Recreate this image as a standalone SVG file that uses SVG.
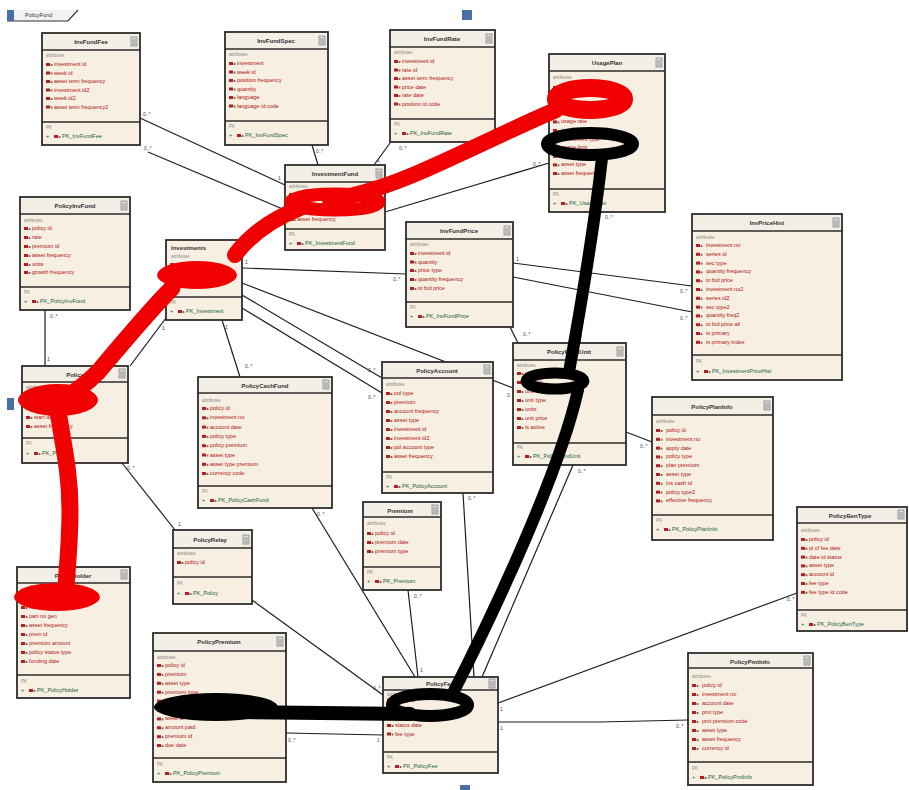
<svg xmlns="http://www.w3.org/2000/svg" xmlns:xlink="http://www.w3.org/1999/xlink" width="909" height="790" viewBox="0 0 909 790">
<style>
.b{fill:#f7efe2;stroke:#2d2d2d;stroke-width:1.8}
.h{fill:#f3eee6}
.s{stroke:#2d2d2d;stroke-width:1.4}
.t{font-family:"Liberation Sans",Arial,sans-serif;font-size:6px;font-weight:bold;fill:#333;text-anchor:middle}
.tl{font-family:"Liberation Sans",Arial,sans-serif;font-size:6px;font-weight:bold;fill:#333}
.l{font-family:"Liberation Sans",Arial,sans-serif;font-size:4.5px;fill:#888}
.a{font-family:"Liberation Sans",Arial,sans-serif;font-size:5.5px;fill:#b01010}
.o{font-family:"Liberation Sans",Arial,sans-serif;font-size:5.5px;fill:#14603a}
.c{stroke:#1e1e1e;stroke-width:1.2;fill:none}
.m{font-family:"Liberation Sans",Arial,sans-serif;font-size:5px;fill:#444}
.rd{stroke:#f00000;fill:none;stroke-linecap:round;stroke-linejoin:round}
.bk{stroke:#000;fill:none;stroke-linecap:round;stroke-linejoin:round}
.hd{fill:#4a6fa5}
</style>
<defs>
<g id="k"><rect width="4" height="3" fill="#b42020"/><rect x="4.6" y="1" width="1.8" height="2" fill="#666"/></g>
<g id="btn"><rect width="6" height="9" fill="#ddd" stroke="#666" stroke-width=".6"/><path d="M1,3h4M1,5h4M1,7h4" stroke="#666" stroke-width=".6"/></g>
</defs>
<rect width="909" height="790" fill="#fff"/>

<g id="frame">
<path d="M7,10 H76 L68,21 H7 Z" fill="#f2f2f2"/>
<path d="M7,21 H68 L78,10" fill="none" stroke="#333" stroke-width="1.2"/>
<rect x="7" y="10" width="7" height="11" fill="#4a6fa5"/>
<text class="tl" x="25" y="17" style="font-weight:normal;font-size:5.5px">PolicyFund</text>
<rect class="hd" x="462" y="10" width="10" height="10"/>
<rect class="hd" x="7" y="398" width="7" height="12"/>
<rect class="hd" x="460" y="785" width="10" height="5"/>
</g>

<g id="connectors">
<path class="c" d="M140,118 L285,185"/><text class="m" x="143" y="116">0..*</text><text class="m" x="278" y="180">1</text>
<path class="c" d="M148,152 L285,210"/><text class="m" x="144" y="150">0..*</text>
<path class="c" d="M312,145 L318,165"/><text class="m" x="316" y="153">0..*</text>
<path class="c" d="M390,143 L374,165"/><text class="m" x="399" y="150">0..*</text><text class="m" x="377" y="162">1</text>
<path class="c" d="M549,163 L385,212"/><text class="m" x="533" y="166">0..*</text>
<path class="c" d="M242,268 L406,274"/><text class="m" x="393" y="281">0..*</text><text class="m" x="245" y="264">1</text>
<path class="c" d="M513,263 L692,286"/><text class="m" x="680" y="293">0..*</text><text class="m" x="516" y="261">1</text>
<path class="c" d="M513,277 L692,312"/><text class="m" x="680" y="320">0..*</text>
<path class="c" d="M242,283 L513,388"/><text class="m" x="507" y="397">0..*</text>
<path class="c" d="M242,295 L382,378"/><text class="m" x="368" y="372">0..*</text>
<path class="c" d="M242,308 L382,393"/><text class="m" x="368" y="399">0..*</text>
<path class="c" d="M222,320 L240,377"/><text class="m" x="245" y="368">0..*</text><text class="m" x="225" y="329">1</text>
<path class="c" d="M166,318 L130,366"/><text class="m" x="162" y="330">1</text>
<path class="c" d="M45,310 L45,366"/><text class="m" x="50" y="318">0..*</text><text class="m" x="47" y="361">1</text>
<path class="c" d="M122,463 L175,530"/><text class="m" x="127" y="470">0..*</text><text class="m" x="178" y="526">1</text>
<path class="c" d="M252,600 L383,695"/><text class="m" x="373" y="690">0..*</text>
<path class="c" d="M312,508 L415,677"/><text class="m" x="317" y="516">0..*</text>
<path class="c" d="M408,590 L418,677"/><text class="m" x="414" y="598">0..*</text><text class="m" x="420" y="672">1</text>
<path class="c" d="M463,493 L474,677"/><text class="m" x="468" y="500">0..*</text>
<path class="c" d="M573,465 L482,677"/><text class="m" x="578" y="473">0..*</text>
<path class="c" d="M286,733 L383,735"/><text class="m" x="288" y="742">0..*</text><text class="m" x="377" y="742">1</text>
<path class="c" d="M498,703 L797,593"/><text class="m" x="787" y="601">0..*</text><text class="m" x="500" y="711">1</text>
<path class="c" d="M498,722 L600,722 L688,720"/><text class="m" x="676" y="728">0..*</text><text class="m" x="500" y="730">1</text>
<path class="c" d="M626,432 L652,442"/><text class="m" x="640" y="448">0..*</text>
<path class="c" d="M595,212 L580,343"/><text class="m" x="605" y="219">0..*</text>
<path class="c" d="M510,327 L518,343"/><text class="m" x="523" y="336">0..*</text>
</g>

<g id="InvFundFee">
<rect class="b" x="42" y="33" width="98" height="112"/><rect class="h" x="43" y="34" width="96" height="16"/>
<line class="s" x1="42" y1="50" x2="140" y2="50"/><use href="#btn" x="131" y="37"/>
<text class="t" x="91" y="44">InvFundFee</text><text class="l" x="46" y="57">attributes</text>
<use href="#k" x="46" y="63"/><text class="a" x="54" y="66">investment id</text>
<use href="#k" x="46" y="71.5"/><text class="a" x="54" y="74.5">week id</text>
<use href="#k" x="46" y="80"/><text class="a" x="54" y="83">asset term frequency</text>
<use href="#k" x="46" y="88.5"/><text class="a" x="54" y="91.5">investment id2</text>
<use href="#k" x="46" y="97"/><text class="a" x="54" y="100">week id2</text>
<use href="#k" x="46" y="105.5"/><text class="a" x="54" y="108.5">asset term frequency2</text>
<line class="s" x1="42" y1="122" x2="140" y2="122"/><text class="l" x="46" y="129">PK</text>
<text class="o" x="46" y="138">+</text><use href="#k" x="54" y="135"/><text class="o" x="62" y="138">PK_InvFundFee</text>
</g>

<g id="InvFundSpec">
<rect class="b" x="225" y="32" width="103" height="113"/><rect class="h" x="226" y="33" width="101" height="16"/>
<line class="s" x1="225" y1="49" x2="328" y2="49"/><use href="#btn" x="319" y="36"/>
<text class="t" x="276" y="43">InvFundSpec</text><text class="l" x="229" y="56">attributes</text>
<use href="#k" x="229" y="62"/><text class="a" x="237" y="65">investment</text>
<use href="#k" x="229" y="70.5"/><text class="a" x="237" y="73.5">week id</text>
<use href="#k" x="229" y="79"/><text class="a" x="237" y="82">position frequency</text>
<use href="#k" x="229" y="87.5"/><text class="a" x="237" y="90.5">quantity</text>
<use href="#k" x="229" y="96"/><text class="a" x="237" y="99">language</text>
<use href="#k" x="229" y="104.5"/><text class="a" x="237" y="107.5">language id code</text>
<line class="s" x1="225" y1="121" x2="328" y2="121"/><text class="l" x="229" y="128">PK</text>
<text class="o" x="229" y="137">+</text><use href="#k" x="237" y="134"/><text class="o" x="245" y="137">PK_InvFundSpec</text>
</g>

<g id="InvFundRate">
<rect class="b" x="390" y="30" width="105" height="112"/><rect class="h" x="391" y="31" width="103" height="16"/>
<line class="s" x1="390" y1="47" x2="495" y2="47"/><use href="#btn" x="486" y="34"/>
<text class="t" x="442" y="41">InvFundRate</text><text class="l" x="394" y="54">attributes</text>
<use href="#k" x="394" y="60"/><text class="a" x="402" y="63">investment id</text>
<use href="#k" x="394" y="68.5"/><text class="a" x="402" y="71.5">rate id</text>
<use href="#k" x="394" y="77"/><text class="a" x="402" y="80">asset term frequency</text>
<use href="#k" x="394" y="85.5"/><text class="a" x="402" y="88.5">price date</text>
<use href="#k" x="394" y="94"/><text class="a" x="402" y="97">rate date</text>
<use href="#k" x="394" y="102.5"/><text class="a" x="402" y="105.5">position id code</text>
<line class="s" x1="390" y1="119" x2="495" y2="119"/><text class="l" x="394" y="126">PK</text>
<text class="o" x="394" y="135">+</text><use href="#k" x="402" y="132"/><text class="o" x="410" y="135">PK_InvFundRate</text>
</g>

<g id="UsagePlan">
<rect class="b" x="549" y="54" width="116" height="158"/><rect class="h" x="550" y="55" width="114" height="16"/>
<line class="s" x1="549" y1="71" x2="665" y2="71"/><use href="#btn" x="656" y="58"/>
<text class="t" x="607" y="65">UsagePlan</text><text class="l" x="553" y="79">attributes</text>
<use href="#k" x="553" y="86"/><text class="a" x="561" y="89">usage id</text>
<use href="#k" x="553" y="94.6"/><text class="a" x="561" y="97.6">plan id</text>
<use href="#k" x="553" y="103.2"/><text class="a" x="561" y="106.2">usage plan type</text>
<use href="#k" x="553" y="111.8"/><text class="a" x="561" y="114.8">plan date</text>
<use href="#k" x="553" y="120.4"/><text class="a" x="561" y="123.4">usage rate</text>
<use href="#k" x="553" y="129"/><text class="a" x="561" y="132">investment id</text>
<use href="#k" x="553" y="137.6"/><text class="a" x="561" y="140.6">investment type</text>
<use href="#k" x="553" y="146.2"/><text class="a" x="561" y="149.2">usage limit</text>
<use href="#k" x="553" y="154.8"/><text class="a" x="561" y="157.8">plan status</text>
<use href="#k" x="553" y="163.4"/><text class="a" x="561" y="166.4">asset type</text>
<use href="#k" x="553" y="172"/><text class="a" x="561" y="175">asset frequency</text>
<line class="s" x1="549" y1="189" x2="665" y2="189"/><text class="l" x="553" y="196">PK</text>
<text class="o" x="553" y="205">+</text><use href="#k" x="561" y="202"/><text class="o" x="569" y="205">PK_UsagePlan</text>
</g>

<g id="InvestmentFund">
<rect class="b" x="285" y="165" width="100" height="85"/><rect class="h" x="286" y="166" width="98" height="16"/>
<line class="s" x1="285" y1="182" x2="385" y2="182"/><use href="#btn" x="376" y="169"/>
<text class="t" x="335" y="176">InvestmentFund</text><text class="l" x="289" y="188">attributes</text>
<use href="#k" x="289" y="193"/><text class="a" x="297" y="196">investment id</text>
<use href="#k" x="289" y="201.5"/><text class="a" x="297" y="204.5">fund id</text>
<use href="#k" x="289" y="210"/><text class="a" x="297" y="213">fund type</text>
<use href="#k" x="289" y="218"/><text class="a" x="297" y="221">asset frequency</text>
<line class="s" x1="285" y1="229" x2="385" y2="229"/><text class="l" x="289" y="236">PK</text>
<text class="o" x="289" y="245">+</text><use href="#k" x="297" y="242"/><text class="o" x="305" y="245">PK_InvestmentFund</text>
</g>

<g id="PolicyInvFund">
<rect class="b" x="20" y="197" width="110" height="113"/><rect class="h" x="21" y="198" width="108" height="16"/>
<line class="s" x1="20" y1="214" x2="130" y2="214"/><use href="#btn" x="121" y="201"/>
<text class="t" x="75" y="208">PolicyInvFund</text><text class="l" x="24" y="222">attributes</text>
<use href="#k" x="24" y="227"/><text class="a" x="32" y="230">policy id</text>
<use href="#k" x="24" y="236"/><text class="a" x="32" y="239">rate</text>
<use href="#k" x="24" y="245"/><text class="a" x="32" y="248">premium id</text>
<use href="#k" x="24" y="254"/><text class="a" x="32" y="257">asset frequency</text>
<use href="#k" x="24" y="263"/><text class="a" x="32" y="266">units</text>
<use href="#k" x="24" y="271"/><text class="a" x="32" y="274">growth frequency</text>
<line class="s" x1="20" y1="287" x2="130" y2="287"/><text class="l" x="24" y="294">PK</text>
<text class="o" x="24" y="303">+</text><use href="#k" x="32" y="300"/><text class="o" x="40" y="303">PK_PolicyInvFund</text>
</g>

<g id="Investment">
<rect class="b" x="166" y="240" width="76" height="80"/>
<text class="tl" x="171" y="250">Investments</text><text class="l" x="171" y="258">attributes</text>
<use href="#k" x="170" y="263"/><text class="a" x="178" y="266">investment id</text>
<use href="#k" x="170" y="272"/><text class="a" x="178" y="275">fund id</text>
<use href="#k" x="170" y="281"/><text class="a" x="178" y="284">amount</text>
<line class="s" x1="166" y1="297" x2="242" y2="297"/><text class="l" x="170" y="304">PK</text>
<text class="o" x="170" y="313">+</text><use href="#k" x="178" y="310"/><text class="o" x="186" y="313">PK_Investment</text>
</g>

<g id="Policy">
<rect class="b" x="22" y="366" width="106" height="97"/><rect class="h" x="23" y="367" width="104" height="15"/>
<line class="s" x1="22" y1="382" x2="128" y2="382"/><use href="#btn" x="119" y="369"/>
<text class="t" x="75" y="377">Policy</text><text class="l" x="26" y="389">attributes</text>
<use href="#k" x="26" y="398"/><text class="a" x="34" y="401">policy id</text>
<use href="#k" x="26" y="407"/><text class="a" x="34" y="410">policy type</text>
<use href="#k" x="26" y="416"/><text class="a" x="34" y="419">start date</text>
<use href="#k" x="26" y="425"/><text class="a" x="34" y="428">asset frequency</text>
<line class="s" x1="22" y1="438" x2="128" y2="438"/><text class="l" x="26" y="445">PK</text>
<text class="o" x="26" y="455">+</text><use href="#k" x="34" y="452"/><text class="o" x="42" y="455">PK_Policy</text>
</g>

<g id="InvFundPrice">
<rect class="b" x="406" y="222" width="107" height="105"/><rect class="h" x="407" y="223" width="105" height="16"/>
<line class="s" x1="406" y1="239" x2="513" y2="239"/><use href="#btn" x="504" y="226"/>
<text class="t" x="459" y="233">InvFundPrice</text><text class="l" x="410" y="246">attributes</text>
<use href="#k" x="410" y="252"/><text class="a" x="418" y="255">investment id</text>
<use href="#k" x="410" y="260.5"/><text class="a" x="418" y="263.5">quantity</text>
<use href="#k" x="410" y="269"/><text class="a" x="418" y="272">price type</text>
<use href="#k" x="410" y="278"/><text class="a" x="418" y="281">quantity frequency</text>
<use href="#k" x="410" y="287"/><text class="a" x="418" y="290">to bid price</text>
<line class="s" x1="406" y1="302" x2="513" y2="302"/><text class="l" x="410" y="309">PK</text>
<text class="o" x="410" y="318">+</text><use href="#k" x="418" y="315"/><text class="o" x="426" y="318">PK_InvFundPrice</text>
</g>

<g id="InvPriceHist">
<rect class="b" x="692" y="214" width="150" height="166"/><rect class="h" x="693" y="215" width="148" height="16"/>
<line class="s" x1="692" y1="231" x2="842" y2="231"/><use href="#btn" x="833" y="218"/>
<text class="t" x="767" y="225">InvPriceHist</text><text class="l" x="696" y="239">attributes</text>
<use href="#k" x="696" y="244"/><text class="a" x="706" y="247">investment no</text>
<use href="#k" x="696" y="252.8"/><text class="a" x="706" y="255.8">series id</text>
<use href="#k" x="696" y="261.6"/><text class="a" x="706" y="264.6">sec type</text>
<use href="#k" x="696" y="270.4"/><text class="a" x="706" y="273.4">quantity frequency</text>
<use href="#k" x="696" y="279.2"/><text class="a" x="706" y="282.2">to bid price</text>
<use href="#k" x="696" y="288"/><text class="a" x="706" y="291">investment no2</text>
<use href="#k" x="696" y="296.8"/><text class="a" x="706" y="299.8">series id2</text>
<use href="#k" x="696" y="305.6"/><text class="a" x="706" y="308.6">sec type2</text>
<use href="#k" x="696" y="314.4"/><text class="a" x="706" y="317.4">quantity freq2</text>
<use href="#k" x="696" y="323.2"/><text class="a" x="706" y="326.2">to bid price all</text>
<use href="#k" x="696" y="332"/><text class="a" x="706" y="335">is primary</text>
<use href="#k" x="696" y="340.8"/><text class="a" x="706" y="343.8">is primary index</text>
<line class="s" x1="692" y1="355" x2="842" y2="355"/><text class="l" x="696" y="363">PK</text>
<text class="o" x="696" y="373">+</text><use href="#k" x="704" y="370"/><text class="o" x="712" y="373">PK_InvestmentPriceHist</text>
</g>

<g id="PolicyFundUnit">
<rect class="b" x="513" y="343" width="113" height="122"/><rect class="h" x="514" y="344" width="111" height="16"/>
<line class="s" x1="513" y1="360" x2="626" y2="360"/><use href="#btn" x="617" y="347"/>
<text class="t" x="569" y="354">PolicyFundUnit</text><text class="l" x="517" y="367">attributes</text>
<use href="#k" x="517" y="372"/><text class="a" x="525" y="375">policy id</text>
<use href="#k" x="517" y="381"/><text class="a" x="525" y="384">fund id</text>
<use href="#k" x="517" y="390"/><text class="a" x="525" y="393">unit date</text>
<use href="#k" x="517" y="399"/><text class="a" x="525" y="402">unit type</text>
<use href="#k" x="517" y="408"/><text class="a" x="525" y="411">units</text>
<use href="#k" x="517" y="417"/><text class="a" x="525" y="420">unit price</text>
<use href="#k" x="517" y="426"/><text class="a" x="525" y="429">is active</text>
<line class="s" x1="513" y1="443" x2="626" y2="443"/><text class="l" x="517" y="449">PK</text>
<text class="o" x="517" y="458">+</text><use href="#k" x="525" y="455"/><text class="o" x="533" y="458">PK_PolicyFundUnit</text>
</g>

<g id="PolicyCashFund">
<rect class="b" x="198" y="377" width="134" height="131"/><rect class="h" x="199" y="378" width="132" height="15"/>
<line class="s" x1="198" y1="393" x2="332" y2="393"/><use href="#btn" x="323" y="380"/>
<text class="t" x="265" y="388">PolicyCashFund</text><text class="l" x="202" y="402">attributes</text>
<use href="#k" x="202" y="407"/><text class="a" x="210" y="410">policy id</text>
<use href="#k" x="202" y="416.3"/><text class="a" x="210" y="419.3">investment no</text>
<use href="#k" x="202" y="425.6"/><text class="a" x="210" y="428.6">account date</text>
<use href="#k" x="202" y="434.9"/><text class="a" x="210" y="437.9">policy type</text>
<use href="#k" x="202" y="444.2"/><text class="a" x="210" y="447.2">policy premium</text>
<use href="#k" x="202" y="453.5"/><text class="a" x="210" y="456.5">asset type</text>
<use href="#k" x="202" y="462.8"/><text class="a" x="210" y="465.8">asset type premium</text>
<use href="#k" x="202" y="472"/><text class="a" x="210" y="475">currency code</text>
<line class="s" x1="198" y1="486" x2="332" y2="486"/><text class="l" x="202" y="493">PK</text>
<text class="o" x="202" y="502">+</text><use href="#k" x="210" y="499"/><text class="o" x="218" y="502">PK_PolicyCashFund</text>
</g>

<g id="PolicyAccount">
<rect class="b" x="382" y="362" width="111" height="131"/><rect class="h" x="383" y="363" width="109" height="15"/>
<line class="s" x1="382" y1="378" x2="493" y2="378"/><use href="#btn" x="484" y="365"/>
<text class="t" x="437" y="373">PolicyAccount</text><text class="l" x="386" y="386">attributes</text>
<use href="#k" x="386" y="392"/><text class="a" x="394" y="395">pol type</text>
<use href="#k" x="386" y="401"/><text class="a" x="394" y="404">premium</text>
<use href="#k" x="386" y="410"/><text class="a" x="394" y="413">account frequency</text>
<use href="#k" x="386" y="419"/><text class="a" x="394" y="422">asset type</text>
<use href="#k" x="386" y="428"/><text class="a" x="394" y="431">investment id</text>
<use href="#k" x="386" y="437"/><text class="a" x="394" y="440">investment id2</text>
<use href="#k" x="386" y="446"/><text class="a" x="394" y="449">pol account type</text>
<use href="#k" x="386" y="455"/><text class="a" x="394" y="458">asset frequency</text>
<line class="s" x1="382" y1="472" x2="493" y2="472"/><text class="l" x="386" y="479">PK</text>
<text class="o" x="386" y="488">+</text><use href="#k" x="394" y="485"/><text class="o" x="402" y="488">PK_PolicyAccount</text>
</g>

<g id="Premium">
<rect class="b" x="363" y="502" width="78" height="88"/><rect class="h" x="364" y="503" width="76" height="14"/>
<line class="s" x1="363" y1="517" x2="441" y2="517"/><use href="#btn" x="432" y="505"/>
<text class="t" x="400" y="513">Premium</text><text class="l" x="367" y="525">attributes</text>
<use href="#k" x="367" y="532"/><text class="a" x="375" y="535">policy id</text>
<use href="#k" x="367" y="541"/><text class="a" x="375" y="544">premium date</text>
<use href="#k" x="367" y="550"/><text class="a" x="375" y="553">premium type</text>
<line class="s" x1="363" y1="567" x2="441" y2="567"/><text class="l" x="367" y="574">PK</text>
<text class="o" x="367" y="583">+</text><use href="#k" x="375" y="580"/><text class="o" x="383" y="583">PK_Premium</text>
</g>

<g id="PolicyRelay">
<rect class="b" x="173" y="530" width="79" height="74"/><rect class="h" x="174" y="531" width="77" height="17"/>
<line class="s" x1="173" y1="548" x2="252" y2="548"/><use href="#btn" x="243" y="535"/>
<text class="t" x="210" y="542">PolicyRelay</text><text class="l" x="177" y="555">attributes</text>
<use href="#k" x="177" y="561"/><text class="a" x="185" y="564">policy id</text>
<line class="s" x1="173" y1="577" x2="252" y2="577"/><text class="l" x="177" y="585">PK</text>
<text class="o" x="177" y="595">+</text><use href="#k" x="185" y="592"/><text class="o" x="193" y="595">PK_Policy</text>
</g>

<g id="PolicyHolder">
<rect class="b" x="17" y="567" width="113" height="131"/><rect class="h" x="18" y="568" width="111" height="15"/>
<line class="s" x1="17" y1="583" x2="130" y2="583"/><use href="#btn" x="121" y="570"/>
<text class="t" x="73" y="578">PolicyHolder</text><text class="l" x="21" y="591">attributes</text>
<use href="#k" x="21" y="597"/><text class="a" x="29" y="600">policy id</text>
<use href="#k" x="21" y="606"/><text class="a" x="29" y="609">holder name</text>
<use href="#k" x="21" y="615"/><text class="a" x="29" y="618">part no gen</text>
<use href="#k" x="21" y="624"/><text class="a" x="29" y="627">asset frequency</text>
<use href="#k" x="21" y="633"/><text class="a" x="29" y="636">prem id</text>
<use href="#k" x="21" y="642"/><text class="a" x="29" y="645">premium amount</text>
<use href="#k" x="21" y="651"/><text class="a" x="29" y="654">policy status type</text>
<use href="#k" x="21" y="660"/><text class="a" x="29" y="663">funding date</text>
<line class="s" x1="17" y1="675" x2="130" y2="675"/><text class="l" x="21" y="683">PK</text>
<text class="o" x="21" y="692">+</text><use href="#k" x="29" y="689"/><text class="o" x="37" y="692">PK_PolicyHolder</text>
</g>

<g id="PolicyPremium">
<rect class="b" x="153" y="633" width="133" height="149"/><rect class="h" x="154" y="634" width="131" height="17"/>
<line class="s" x1="153" y1="651" x2="286" y2="651"/><use href="#btn" x="277" y="637"/>
<text class="t" x="219" y="644">PolicyPremium</text><text class="l" x="157" y="659">attributes</text>
<use href="#k" x="157" y="664"/><text class="a" x="165" y="667">policy id</text>
<use href="#k" x="157" y="672.9"/><text class="a" x="165" y="675.9">premium</text>
<use href="#k" x="157" y="681.8"/><text class="a" x="165" y="684.8">asset type</text>
<use href="#k" x="157" y="690.7"/><text class="a" x="165" y="693.7">premium type</text>
<use href="#k" x="157" y="699.6"/><text class="a" x="165" y="702.6">premium date</text>
<use href="#k" x="157" y="708.5"/><text class="a" x="165" y="711.5">due frequency</text>
<use href="#k" x="157" y="717.4"/><text class="a" x="165" y="720.4">week id</text>
<use href="#k" x="157" y="726.3"/><text class="a" x="165" y="729.3">amount paid</text>
<use href="#k" x="157" y="735.2"/><text class="a" x="165" y="738.2">premium id</text>
<use href="#k" x="157" y="744"/><text class="a" x="165" y="747">due date</text>
<line class="s" x1="153" y1="758" x2="286" y2="758"/><text class="l" x="157" y="766">PK</text>
<text class="o" x="157" y="775">+</text><use href="#k" x="165" y="772"/><text class="o" x="173" y="775">PK_PolicyPremium</text>
</g>

<g id="PolicyFee">
<rect class="b" x="383" y="677" width="115" height="96"/><rect class="h" x="384" y="678" width="113" height="12"/>
<line class="s" x1="383" y1="690" x2="498" y2="690"/><use href="#btn" x="489" y="679"/>
<text class="t" x="440" y="686">PolicyFee</text><text class="l" x="387" y="696">attributes</text>
<use href="#k" x="387" y="698.5"/><text class="a" x="395" y="701.5">policy id</text>
<use href="#k" x="387" y="707"/><text class="a" x="395" y="710">fee id</text>
<use href="#k" x="387" y="715.5"/><text class="a" x="395" y="718.5">fee date</text>
<use href="#k" x="387" y="724"/><text class="a" x="395" y="727">status date</text>
<use href="#k" x="387" y="732.5"/><text class="a" x="395" y="735.5">fee type</text>
<line class="s" x1="383" y1="752" x2="498" y2="752"/><text class="l" x="387" y="759">PK</text>
<text class="o" x="387" y="768">+</text><use href="#k" x="395" y="765"/><text class="o" x="403" y="768">PK_PolicyFee</text>
</g>

<g id="PolicyPlanInfo">
<rect class="b" x="652" y="397" width="121" height="143"/><rect class="h" x="653" y="398" width="119" height="17"/>
<line class="s" x1="652" y1="415" x2="773" y2="415"/><use href="#btn" x="764" y="401"/>
<text class="t" x="712" y="409">PolicyPlanInfo</text><text class="l" x="656" y="423">attributes</text>
<use href="#k" x="656" y="429"/><text class="a" x="666" y="432">policy id</text>
<use href="#k" x="656" y="437.8"/><text class="a" x="666" y="440.8">investment no</text>
<use href="#k" x="656" y="446.6"/><text class="a" x="666" y="449.6">apply date</text>
<use href="#k" x="656" y="455.4"/><text class="a" x="666" y="458.4">policy type</text>
<use href="#k" x="656" y="464.2"/><text class="a" x="666" y="467.2">plan premium</text>
<use href="#k" x="656" y="473"/><text class="a" x="666" y="476">asset type</text>
<use href="#k" x="656" y="481.8"/><text class="a" x="666" y="484.8">ins cash id</text>
<use href="#k" x="656" y="490.6"/><text class="a" x="666" y="493.6">policy type2</text>
<use href="#k" x="656" y="499.4"/><text class="a" x="666" y="502.4">effective frequency</text>
<line class="s" x1="652" y1="515" x2="773" y2="515"/><text class="l" x="656" y="522">PK</text>
<text class="o" x="656" y="531">+</text><use href="#k" x="664" y="528"/><text class="o" x="672" y="531">PK_PolicyPlanInfo</text>
</g>

<g id="PolicyBenType">
<rect class="b" x="797" y="507" width="110" height="124"/><rect class="h" x="798" y="508" width="108" height="15"/>
<line class="s" x1="797" y1="523" x2="907" y2="523"/><use href="#btn" x="898" y="510"/>
<text class="t" x="850" y="518">PolicyBenType</text><text class="l" x="801" y="532">attributes</text>
<use href="#k" x="801" y="538"/><text class="a" x="809" y="541">policy id</text>
<use href="#k" x="801" y="546.8"/><text class="a" x="809" y="549.8">pl cf fee date</text>
<use href="#k" x="801" y="555.6"/><text class="a" x="809" y="558.6">date id status</text>
<use href="#k" x="801" y="564.4"/><text class="a" x="809" y="567.4">asset type</text>
<use href="#k" x="801" y="573.2"/><text class="a" x="809" y="576.2">account id</text>
<use href="#k" x="801" y="582"/><text class="a" x="809" y="585">fee type</text>
<use href="#k" x="801" y="590.8"/><text class="a" x="809" y="593.8">fee type id code</text>
<line class="s" x1="797" y1="610" x2="907" y2="610"/><text class="l" x="801" y="617">PK</text>
<text class="o" x="801" y="626">+</text><use href="#k" x="809" y="623"/><text class="o" x="817" y="626">PK_PolicyBenType</text>
</g>

<g id="PolicyPmtInfo">
<rect class="b" x="688" y="653" width="125" height="132"/><rect class="h" x="689" y="654" width="123" height="14"/>
<line class="s" x1="688" y1="668" x2="813" y2="668"/><use href="#btn" x="804" y="656"/>
<text class="t" x="750" y="664">PolicyPmtInfo</text><text class="l" x="692" y="678">attributes</text>
<use href="#k" x="692" y="684"/><text class="a" x="702" y="687">policy id</text>
<use href="#k" x="692" y="693"/><text class="a" x="702" y="696">investment no</text>
<use href="#k" x="692" y="702"/><text class="a" x="702" y="705">account date</text>
<use href="#k" x="692" y="711"/><text class="a" x="702" y="714">pmt type</text>
<use href="#k" x="692" y="720"/><text class="a" x="702" y="723">pmt premium code</text>
<use href="#k" x="692" y="729"/><text class="a" x="702" y="732">asset type</text>
<use href="#k" x="692" y="738"/><text class="a" x="702" y="741">asset frequency</text>
<use href="#k" x="692" y="747"/><text class="a" x="702" y="750">currency id</text>
<line class="s" x1="688" y1="762" x2="813" y2="762"/><text class="l" x="692" y="770">PK</text>
<text class="o" x="692" y="779">+</text><use href="#k" x="700" y="776"/><text class="o" x="708" y="779">PK_PolicyPmtInfo</text>
</g>

<g id="red-scribble">
<ellipse class="rd" cx="590" cy="99" rx="34" ry="11" stroke-width="18"/>
<path class="rd" stroke-width="16" d="M556,110 C520,125 470,150 420,172 C390,185 360,195 330,200"/>
<ellipse class="rd" cx="335" cy="202" rx="44" ry="8" stroke-width="13"/>
<path class="rd" stroke-width="16" d="M300,208 C270,220 250,235 235,255"/>
<ellipse cx="197" cy="275" rx="40" ry="14" fill="#f00000"/>
<path class="rd" stroke-width="17" d="M172,288 C150,310 125,340 98,372 C85,385 75,392 65,398"/>
<ellipse cx="58" cy="400" rx="40" ry="16" fill="#f00000"/>
<path class="rd" stroke-width="17" d="M58,410 C62,440 70,470 70,510 C70,540 68,560 66,585"/>
<ellipse cx="57" cy="597" rx="43" ry="14" fill="#f00000"/>
</g>

<g id="black-scribble">
<ellipse class="bk" cx="590" cy="144" rx="43" ry="11" stroke-width="12"/>
<path class="bk" stroke-width="12" d="M602,158 C595,220 582,300 569,372"/>
<ellipse class="bk" cx="555" cy="381" rx="29" ry="8" stroke-width="11"/>
<path class="bk" stroke-width="12" d="M578,390 C560,470 500,600 452,695"/>
<ellipse class="bk" cx="430" cy="705" rx="38" ry="11" stroke-width="12"/>
<path class="bk" stroke-width="14" d="M410,714 L240,712"/>
<ellipse cx="216" cy="707" rx="62" ry="14" fill="#000"/>
</g>
</svg>
